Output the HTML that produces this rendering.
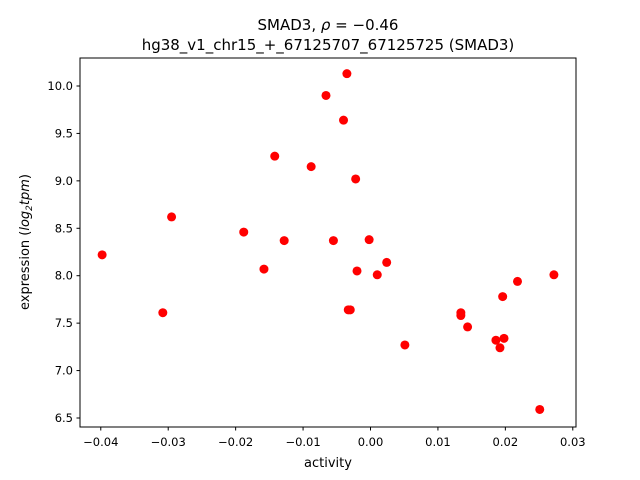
<!DOCTYPE html>
<html><head><meta charset="utf-8"><style>body{margin:0;background:#fff}svg{display:block;font-family:"DejaVu Sans","Liberation Sans",sans-serif}</style></head>
<body>
<svg id="chart" width="640" height="480">
<text x="328" y="30" font-size="15" text-anchor="middle">SMAD3, <tspan font-style="italic">ρ</tspan> = −0.46</text>
<text x="328" y="50" font-size="15" text-anchor="middle">hg38_v1_chr15_+_67125707_67125725 (SMAD3)</text>
<rect x="80" y="58" width="496" height="369" fill="none" stroke="#000" stroke-width="1"/>
<g id="xt"></g>
<g id="yt"></g>
<g id="pts"></g>
<text x="328" y="467" font-size="13" text-anchor="middle">activity</text>
<text transform="translate(29,242) rotate(-90)" font-size="13" text-anchor="middle">expression (<tspan font-style="italic">log</tspan><tspan font-size="9" dy="3" font-style="italic">2</tspan><tspan dy="-3" font-style="italic">tpm</tspan>)</text>
</svg>
<script>
const xs=[-0.0398,-0.0308,-0.0295,-0.0188,-0.0158,-0.0142,-0.0128,-0.0088,-0.0066,-0.0055,-0.0040,-0.0035,-0.0033,-0.0030,-0.0022,-0.0020,-0.0002,0.0010,0.0024,0.0051,0.0134,0.0134,0.0144,0.0186,0.0192,0.0196,0.0198,0.0218,0.0251,0.0272];
const ys=[8.22,7.61,8.62,8.46,8.07,9.26,8.37,9.15,9.90,8.37,9.64,10.13,7.64,7.64,9.02,8.05,8.38,8.01,8.14,7.27,7.61,7.58,7.46,7.32,7.24,7.78,7.34,7.94,6.59,8.01];
const xTicks=[-0.04,-0.03,-0.02,-0.01,0.00,0.01,0.02,0.03];
const xTickLabels=["−0.04","−0.03","−0.02","−0.01","0.00","0.01","0.02","0.03"];
const yTicks=[6.5,7.0,7.5,8.0,8.5,9.0,9.5,10.0];
const yTickLabels=["6.5","7.0","7.5","8.0","8.5","9.0","9.5","10.0"];
const X=v=>370.5+v*6743;
const Y=v=>418-(v-6.5)*94.86;
const NS="http://www.w3.org/2000/svg";
function mk(t,a,p){const e=document.createElementNS(NS,t);for(const k in a)e.setAttribute(k,a[k]);p.appendChild(e);return e;}
const xt=document.getElementById('xt'),yt=document.getElementById('yt'),pts=document.getElementById('pts');
xTicks.forEach((v,i)=>{const l=mk('line',{x1:X(v),x2:X(v),y1:427,y2:430.5,stroke:'#000'},xt);


const t=mk('text',{x:X(v),y:446,'font-size':11.5,'text-anchor':'middle'},xt);t.textContent=xTickLabels[i];

});
yTicks.forEach((v,i)=>{const l=mk('line',{x1:76.5,x2:80,y1:Y(v),y2:Y(v),stroke:'#000'},yt);


const t=mk('text',{x:73,y:Y(v)+4,'font-size':11.5,'text-anchor':'end'},yt);t.textContent=yTickLabels[i];

});
xs.forEach((v,i)=>{const c=mk('circle',{cx:X(v),cy:Y(ys[i]),r:4.5,fill:'#ff0000'},pts);

});
</script>
</body></html>
